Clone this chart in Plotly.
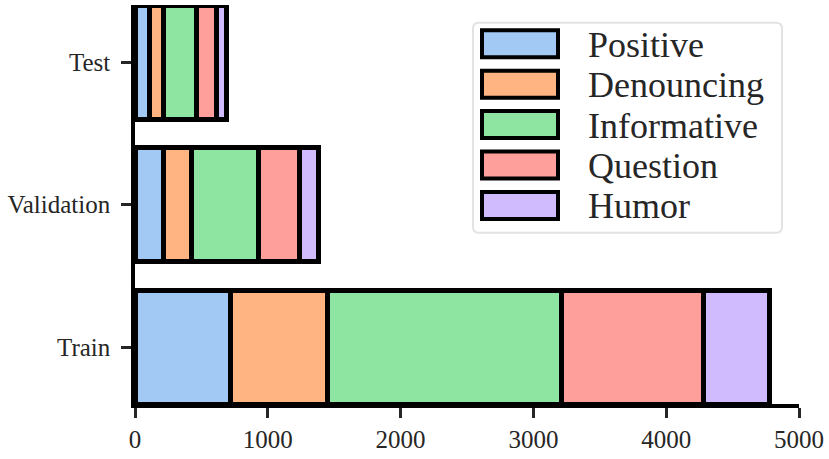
import plotly.graph_objects as go

splits = ["Train", "Validation", "Test"]
labels = ["Positive", "Denouncing", "Informative", "Question", "Humor"]
positive = [722, 213, 108]
denouncing = [729, 211, 105]
informative = [1760, 506, 249]
question = [1073, 311, 155]
humor = [496, 140, 73]
x_ticks = [0, 1000, 2000, 3000, 4000, 5000]

series = [positive, denouncing, informative, question, humor]
colors = ["#a1c9f4", "#ffb482", "#8de5a1", "#ff9f9b", "#d0bbff"]

W, H = 829, 459
L, R, T, B = 135, 30, 5, 55
PW, PH = W - L - R, H - T - B

def px(x):
    return (x - L) / PW

def py(y):
    return 1 - (y - T) / PH

fig = go.Figure()
for name, vals, c in zip(labels, series, colors):
    fig.add_trace(go.Bar(
        y=splits, x=vals, name=name, orientation="h",
        marker=dict(color=c, line=dict(color="black", width=5)),
        width=0.8, cliponaxis=False, showlegend=False,
    ))

shapes = []
annotations = []
# legend box with rounded corners
bx0, bx1, by0, by1, r = 473, 782, 22.7, 232.7, 6
path = (f"M {px(bx0+r)},{py(by0)} L {px(bx1-r)},{py(by0)} Q {px(bx1)},{py(by0)} {px(bx1)},{py(by0+r)} "
        f"L {px(bx1)},{py(by1-r)} Q {px(bx1)},{py(by1)} {px(bx1-r)},{py(by1)} "
        f"L {px(bx0+r)},{py(by1)} Q {px(bx0)},{py(by1)} {px(bx0)},{py(by1-r)} "
        f"L {px(bx0)},{py(by0+r)} Q {px(bx0)},{py(by0)} {px(bx0+r)},{py(by0)} Z")
shapes.append(dict(type="path", path=path, xref="paper", yref="paper",
                   fillcolor="white", line=dict(color="#e3e3e3", width=2), layer="above"))
row_top0, pitch, sh = 28.3, 40.4, 31
for i, (name, c) in enumerate(zip(labels, colors)):
    top = row_top0 + i * pitch
    shapes.append(dict(type="rect", xref="paper", yref="paper",
                       x0=px(482), x1=px(558), y0=py(top + 2), y1=py(top + sh - 2),
                       fillcolor=c, line=dict(color="black", width=4), layer="above"))
    annotations.append(dict(text=name, x=px(586), y=py(top + sh / 2 + 1), xref="paper", yref="paper",
                            xanchor="left", yanchor="middle", showarrow=False,
                            font=dict(family="Liberation Serif", size=36, color="#262626")))

fig.update_layout(
    barmode="stack",
    width=W, height=H,
    margin=dict(l=L, r=R, t=T, b=B),
    plot_bgcolor="white", paper_bgcolor="white",
    font=dict(family="Liberation Serif", size=25, color="#262626"),
    shapes=shapes, annotations=annotations,
    xaxis=dict(range=[0, 5000], tickvals=x_ticks, ticks="outside", ticklen=10, tickwidth=3,
               tickcolor="#262626", showline=True, linecolor="black", linewidth=3.5,
               showgrid=False, zeroline=False, tickfont=dict(size=25)),
    yaxis=dict(type="category", categoryorder="array", categoryarray=splits, range=[-0.4, 2.4],
               ticks="outside", ticklen=10, tickwidth=3, tickcolor="#262626",
               showline=True, linecolor="black", linewidth=3.5, showgrid=False, zeroline=False,
               tickfont=dict(size=25), ticklabelstandoff=6),
)
fig.write_html("out.html", config={"displayModeBar": False},
               post_script="document.body.style.margin='0';document.body.style.overflow='hidden';")
